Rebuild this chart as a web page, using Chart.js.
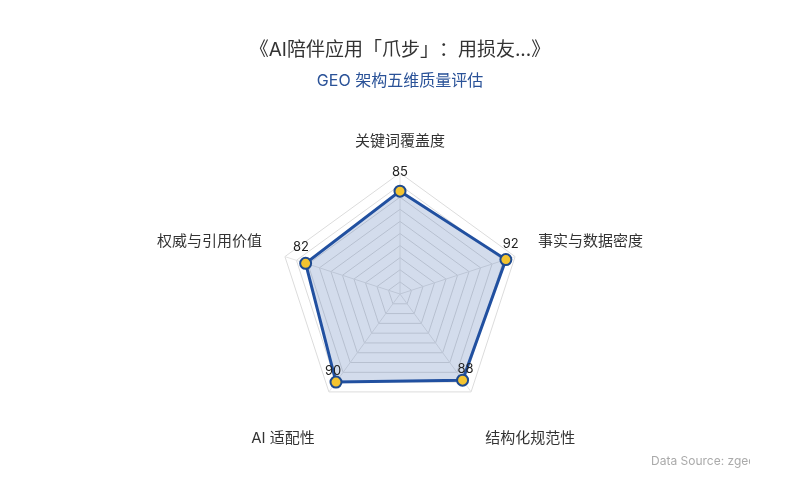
<!DOCTYPE html>
<html lang="zh">
<head>
  <meta charset="UTF-8">
  <meta name="viewport" content="width=device-width, initial-scale=1.0">
  <title>GEO 架构五维质量评估</title>
  <script src="https://cdn.jsdelivr.net/npm/chart.js"></script>
  <style>
    html, body {
      margin: 0;
      padding: 0;
      background: #fff;
    }
    #wrap {
      position: relative;
      width: 800px;
      height: 500px;
    }
    canvas {
      text-spacing-trim: space-all;
    }
    #source {
      position: absolute;
      left: 651px;
      top: 453px;
      width: 99px;
      overflow: hidden;
      white-space: nowrap;
      font: 12px Inter, 'Noto Sans CJK SC', sans-serif;
      color: #aaa;
    }
  </style>
</head>
<body>
  <div id="wrap">
    <canvas id="radar"></canvas>
    <div id="source">Data Source: zgeo.ai</div>
  </div>

  <script>
    const dimensions = ['关键词覆盖度', '事实与数据密度', '结构化规范性', 'AI 适配性', '权威与引用价值'];
    const scores = [85, 92, 88, 90, 82];
    const titleText = '《AI陪伴应用「爪步」：用损友...》';
    const subtitleText = 'GEO 架构五维质量评估';

    const FONT = "Inter, 'Noto Sans CJK SC', sans-serif";

    // axis names and value labels, placed with the radial scale
    const radarText = {
      id: 'radarText',
      afterDatasetsDraw(chart) {
        const r = chart.scales.r;
        const ctx = chart.ctx;
        ctx.save();

        ctx.font = '15px ' + FONT;
        ctx.fillStyle = '#333';
        dimensions.forEach((name, i) => {
          const p = r.getPointPosition(i, r.drawingArea + 24);
          const dx = p.x - r.xCenter;
          const dy = p.y - r.yCenter;
          ctx.textAlign = Math.abs(dx) < 1 ? 'center' : (dx > 0 ? 'left' : 'right');
          if (dy > 0) {
            ctx.textBaseline = 'top';
            ctx.fillText(name, p.x, p.y + 20);
          } else {
            ctx.textBaseline = 'bottom';
            ctx.fillText(name, p.x, p.y);
          }
        });

        const meta = chart.getDatasetMeta(0);
        ctx.font = '13px ' + FONT;
        ctx.fillStyle = '#222';
        ctx.textAlign = 'center';
        ctx.textBaseline = 'middle';
        meta.data.forEach((pt, i) => {
          const len = Math.hypot(pt.x - r.xCenter, pt.y - r.yCenter) || 1;
          const ux = (pt.x - r.xCenter) / len;
          const uy = (pt.y - r.yCenter) / len;
          ctx.fillText(String(scores[i]), pt.x + 5 * ux, pt.y - 14.5 + 4.5 * uy);
        });

        ctx.restore();
      }
    };

    new Chart(document.getElementById('radar'), {
      type: 'radar',
      data: {
        labels: dimensions,
        datasets: [{
          label: subtitleText,
          data: scores,
          borderColor: '#2150a0',
          borderWidth: 3,
          backgroundColor: 'rgba(33, 80, 160, 0.2)',
          fill: true,
          pointRadius: 5.5,
          pointBorderWidth: 2,
          pointBackgroundColor: '#f4c430',
          pointBorderColor: '#1e4a8f',
        }],
      },
      options: {
        responsive: true,
        maintainAspectRatio: false,
        animation: false,
        layout: {
          padding: { top: 0, bottom: 85, left: 0, right: 0 },
        },
        plugins: {
          legend: { display: false },
          tooltip: { enabled: false },
          title: {
            display: true,
            text: titleText,
            color: '#333',
            font: { family: FONT, size: 19, weight: 'normal' },
            padding: { top: 39, bottom: 9 },
          },
          subtitle: {
            display: true,
            text: subtitleText,
            color: '#2a5298',
            font: { family: FONT, size: 16, weight: 'normal' },
            padding: { top: 1, bottom: 82 },
          },
        },
        scales: {
          r: {
            min: 0,
            max: 100,
            ticks: { display: false, stepSize: 10 },
            pointLabels: { display: false },
            grid: { color: '#dcdcdc' },
            angleLines: { color: '#e4e4e4' },
          },
        },
      },
      plugins: [radarText],
    });
  </script>
</body>
</html>
